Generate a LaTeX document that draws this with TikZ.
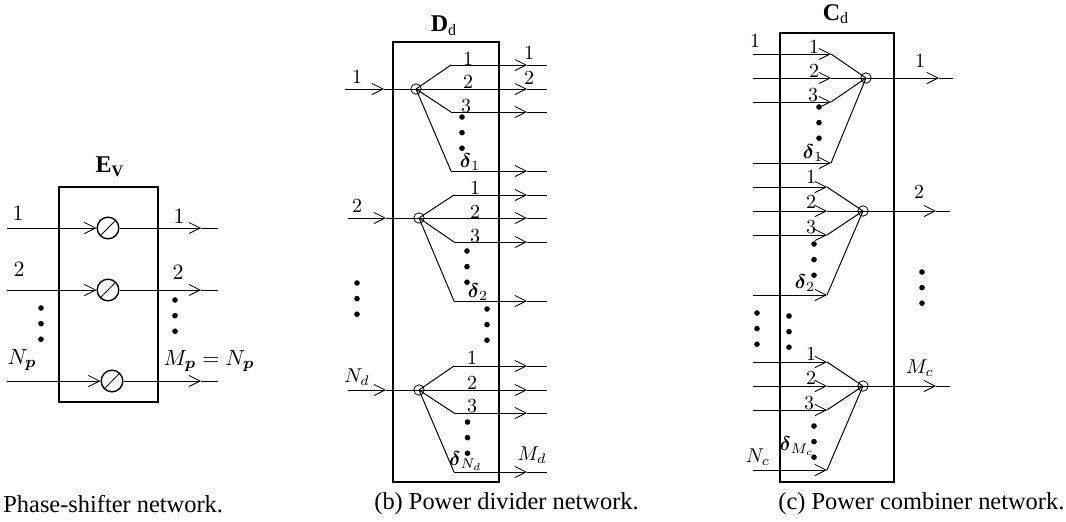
\documentclass[tikz,border=0pt]{standalone}
\usepackage{amsmath}
\usepackage{amssymb}
\usepackage{fontspec}
\setmainfont{Liberation Serif}
\usetikzlibrary{arrows.meta}

\tikzset{
  network/.style={draw, line width=1.05pt},
  line/.style={draw, line width=.5pt},
  fermion/.style={line, -{Straight Barb[length=5.6pt, width=5.6pt, line width=.4pt]}},
  shifter/.style={draw, circle, line width=.7pt, minimum size=10.8pt, inner sep=0pt, path picture={
    \draw[line width=.45pt] (path picture bounding box.south west) -- (path picture bounding box.north east);}},
  junction/.style={draw, circle, line width=.4pt, minimum size=5.2pt, inner sep=0pt},
  dotmark/.style={fill, circle, minimum size=2.8pt, inner sep=0pt},
  lab/.style={inner sep=0pt, font=\fontsize{10}{12}\selectfont},
  biglab/.style={inner sep=0pt, font=\fontsize{11}{13}\selectfont},
  titlelab/.style={inner sep=0pt, font=\fontsize{12}{14}\selectfont},
  caption/.style={inner sep=0pt, font=\fontsize{12.2}{14}\selectfont},
}

\begin{document}
\begin{tikzpicture}[x=.5pt, y=-.5pt]
  \useasboundingbox (0,0) rectangle (1066,521);

  % (a) phase shifters
  \node[network, minimum width=49.5pt, minimum height=107.5pt, inner sep=0pt] (ev) at (108.5,294.5) {};
  \foreach \s/\xc/\y in {1/108/228, 2/108/290, 3/112/381} {
    \node[shifter] (ps\s) at (\xc,\y) {};
    \coordinate (evin\s) at (7,\y);
    \coordinate (evtip\s) at (201,\y);
    \coordinate (evout\s) at (218,\y);
    \draw[fermion] (evin\s) -- (ps\s);
    \draw[fermion] (ps\s) -- (evtip\s);
    \draw[line] (evtip\s) -- (evout\s);
  }

  % (b) divider
  \node[network, minimum width=53pt, minimum height=220pt, inner sep=0pt] (dd) at (446,262) {};
  \foreach \s/\xin/\xc/\yc/\xt/\xk/\ya/\yb/\yd in {1/345/416/89/384/451/65/112/171,
      2/348/419/218/386/454/195/242/301, 3/348/419/390/386/454/366/413/472} {
    \node[junction] (sp\s) at (\xc,\yc) {};
    \coordinate (dvin\s) at (\xin,\yc);
    \coordinate (dvtip\s) at (\xt,\yc);
    \draw[fermion] (dvin\s) -- (dvtip\s);
    \draw[line] (dvtip\s) -- (sp\s.center);
    \foreach \b/\y in {a/\ya, b/\yc, c/\yb, d/\yd} {
      \coordinate (dvk\s\b) at (\xk,\y);
      \coordinate (dvt\s\b) at (527,\y);
      \coordinate (dvo\s\b) at (547,\y);
      \draw[line] (sp\s.center) -- (dvk\s\b);
      \draw[fermion] (dvk\s\b) -- (dvt\s\b);
      \draw[line] (dvt\s\b) -- (dvo\s\b);
    }
  }

  % (c) combiner
  \node[network, minimum width=57pt, minimum height=224.5pt, inner sep=0pt] (cd) at (837,257.5) {};
  \foreach \s/\xc/\yc/\xk/\ya/\yb/\yd/\xt/\xo in {1/866/78/831/54/102/163/939/953,
      2/863/211/827/187/235/295/936/950, 3/863/386/827/362/410/470/936/950} {
    \node[junction] (cb\s) at (\xc,\yc) {};
    \coordinate (cbtip\s) at (\xt,\yc);
    \coordinate (cbout\s) at (\xo,\yc);
    \draw[fermion] (cb\s.center) -- (cbtip\s);
    \draw[line] (cbtip\s) -- (cbout\s);
    \foreach \b/\y in {a/\ya, b/\yc, c/\yb, d/\yd} {
      \coordinate (cbi\s\b) at (753,\y);
      \coordinate (cbk\s\b) at (\xk,\y);
      \draw[fermion] (cbi\s\b) -- (cbk\s\b);
      \draw[line] (cbk\s\b) -- (cb\s.center);
    }
  }

  % three dots
  \foreach \x/\y in {41/308, 175/300, 462/117, 467/251, 487/309, 357/283, 467.5/422,
      819/107, 814/244, 789/316, 757/313, 922/272, 814/426} {
    \foreach \k in {0,1,2} {
      \node[dotmark] (dot\x-\k) at (\x,\y+15.6*\k) {};
    }
  }

  % labels
  \foreach \n/\x/\y/\t in {a1/18/213/1, a2/19/269/2, a3/179/216/1, a4/178/272/2,
      a5/22/360/{N_{\boldsymbol{p}}}, a6/209/361/{M_{\boldsymbol{p}} = N_{\boldsymbol{p}}}} {
    \node[biglab] (lab\n) at (\x,\y) {\(\t\)};
  }
  \foreach \n/\x/\y/\t in {
      b1/357/77/1, b2/357/206/2, b3/357/377/{N_d}, b4/529/53/1, b5/529/78/2, b6/532/455/{M_d},
      b7/468/59/1, b8/468/82/2, b9/466/106/3, b10/470/162/{\boldsymbol{\delta}_1},
      b11/475/188/1, b12/475/212/2, b13/475/236/3, b14/478/292/{\boldsymbol{\delta}_2},
      b15/472/358/1, b16/472/383/2, b17/472/406/3, b18/466/461/{\boldsymbol{\delta}_{N_d}},
      c1/755/41/1, c2/920/61/1, c3/919/192/2, c4/920/368/{M_c}, c5/758/457/{N_c},
      c6/814/47/1, c7/814/71/2, c8/813/95/3, c9/813/153/{\boldsymbol{\delta}_1},
      c10/811/177/1, c11/811/202/2, c12/811/227/3, c13/805/283/{\boldsymbol{\delta}_2},
      c14/811/354/1, c15/811/378/2, c16/809/403/3, c17/797/446/{\boldsymbol{\delta}_{M_c}}} {
    \node[lab] (lab\n) at (\x,\y) {\(\t\)};
  }

  \node[titlelab] (evtitle) at (110,167) {\(\mathbf{E}_{\mathbf{V}}\)};
  \node[titlelab] (ddtitle) at (444,26) {\(\mathbf{D}_{\mathrm{d}}\)};
  \node[titlelab] (cdtitle) at (836,14) {\(\mathbf{C}_{\mathrm{d}}\)};

  \node[caption, anchor=west] (capa) at (3,504) {Phase-shifter network.};
  \node[caption, anchor=west] (capb) at (374,504) {(b) Power divider network.};
  \node[caption, anchor=west] (capc) at (778,504) {(c) Power combiner network.};
\end{tikzpicture}
\end{document}
